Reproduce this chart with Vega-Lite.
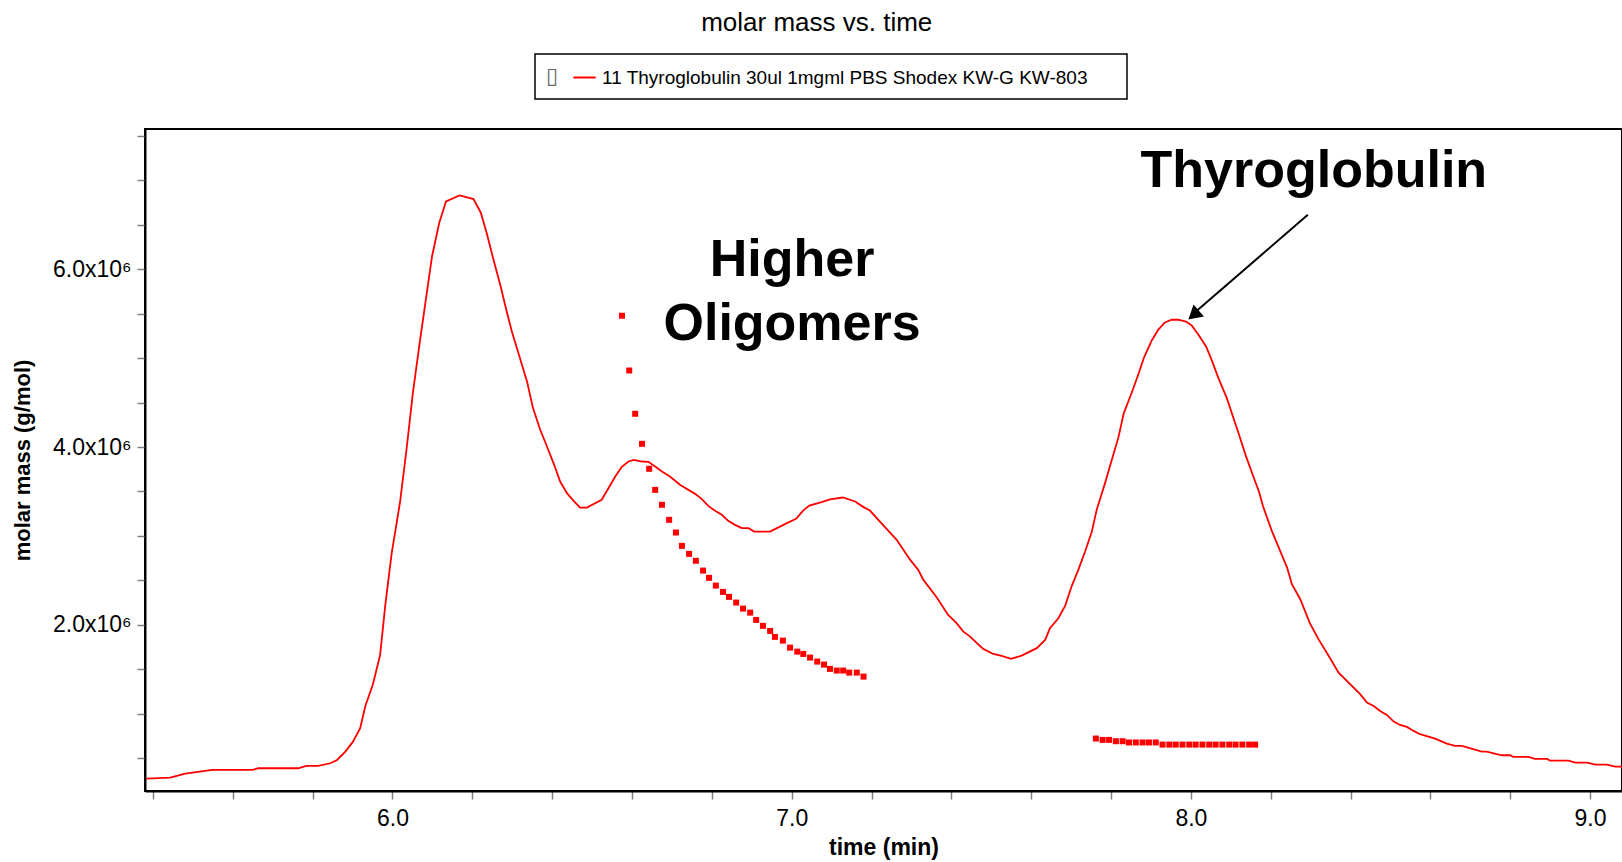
{
  "$schema": "https://vega.github.io/schema/vega-lite/v6.json",
  "width": 1477,
  "height": 662,
  "autosize": "none",
  "padding": {"left": 145, "top": 129, "right": 0, "bottom": 71},
  "background": "white",
  "title": {
    "text": "molar mass vs. time",
    "fontSize": 26,
    "fontWeight": "normal",
    "font": "Liberation Sans",
    "color": "black",
    "anchor": "middle",
    "frame": "bounds",
    "offset": 17
  },
  "datasets": {
    "trace": [
      {"time": 5.383, "mass": 0.269e6}, {"time": 5.443, "mass": 0.280e6}, {"time": 5.481, "mass": 0.325e6},
      {"time": 5.513, "mass": 0.344e6}, {"time": 5.548, "mass": 0.367e6}, {"time": 5.649, "mass": 0.367e6},
      {"time": 5.664, "mass": 0.386e6}, {"time": 5.764, "mass": 0.386e6}, {"time": 5.784, "mass": 0.412e6},
      {"time": 5.814, "mass": 0.412e6}, {"time": 5.844, "mass": 0.442e6}, {"time": 5.861, "mass": 0.479e6},
      {"time": 5.882, "mass": 0.573e6}, {"time": 5.901, "mass": 0.685e6}, {"time": 5.919, "mass": 0.836e6},
      {"time": 5.932, "mass": 1.087e6}, {"time": 5.951, "mass": 1.331e6}, {"time": 5.969, "mass": 1.661e6},
      {"time": 5.982, "mass": 2.224e6}, {"time": 5.998, "mass": 2.806e6}, {"time": 6.019, "mass": 3.383e6},
      {"time": 6.036, "mass": 4.006e6}, {"time": 6.051, "mass": 4.607e6}, {"time": 6.068, "mass": 5.169e6},
      {"time": 6.099, "mass": 6.144e6}, {"time": 6.117, "mass": 6.520e6}, {"time": 6.134, "mass": 6.763e6},
      {"time": 6.168, "mass": 6.831e6}, {"time": 6.203, "mass": 6.790e6}, {"time": 6.221, "mass": 6.639e6},
      {"time": 6.236, "mass": 6.407e6}, {"time": 6.253, "mass": 6.107e6}, {"time": 6.271, "mass": 5.806e6},
      {"time": 6.285, "mass": 5.544e6}, {"time": 6.299, "mass": 5.300e6}, {"time": 6.318, "mass": 5.019e6},
      {"time": 6.337, "mass": 4.737e6}, {"time": 6.352, "mass": 4.438e6}, {"time": 6.370, "mass": 4.194e6},
      {"time": 6.387, "mass": 4.006e6}, {"time": 6.405, "mass": 3.800e6}, {"time": 6.420, "mass": 3.612e6},
      {"time": 6.437, "mass": 3.481e6}, {"time": 6.453, "mass": 3.398e6}, {"time": 6.470, "mass": 3.319e6},
      {"time": 6.487, "mass": 3.319e6}, {"time": 6.524, "mass": 3.406e6}, {"time": 6.541, "mass": 3.537e6},
      {"time": 6.558, "mass": 3.668e6}, {"time": 6.574, "mass": 3.774e6}, {"time": 6.591, "mass": 3.837e6},
      {"time": 6.605, "mass": 3.856e6}, {"time": 6.625, "mass": 3.837e6}, {"time": 6.641, "mass": 3.833e6},
      {"time": 6.658, "mass": 3.781e6}, {"time": 6.675, "mass": 3.724e6}, {"time": 6.695, "mass": 3.668e6},
      {"time": 6.720, "mass": 3.575e6}, {"time": 6.758, "mass": 3.473e6}, {"time": 6.775, "mass": 3.414e6},
      {"time": 6.791, "mass": 3.338e6}, {"time": 6.808, "mass": 3.282e6}, {"time": 6.825, "mass": 3.237e6},
      {"time": 6.841, "mass": 3.169e6}, {"time": 6.858, "mass": 3.124e6}, {"time": 6.875, "mass": 3.087e6},
      {"time": 6.892, "mass": 3.087e6}, {"time": 6.906, "mass": 3.049e6}, {"time": 6.946, "mass": 3.049e6},
      {"time": 6.963, "mass": 3.087e6}, {"time": 6.988, "mass": 3.144e6}, {"time": 7.011, "mass": 3.192e6},
      {"time": 7.028, "mass": 3.282e6}, {"time": 7.044, "mass": 3.342e6}, {"time": 7.075, "mass": 3.380e6},
      {"time": 7.096, "mass": 3.410e6}, {"time": 7.128, "mass": 3.432e6}, {"time": 7.159, "mass": 3.387e6},
      {"time": 7.180, "mass": 3.324e6}, {"time": 7.196, "mass": 3.285e6}, {"time": 7.221, "mass": 3.161e6},
      {"time": 7.263, "mass": 2.956e6}, {"time": 7.297, "mass": 2.730e6}, {"time": 7.317, "mass": 2.618e6},
      {"time": 7.330, "mass": 2.505e6}, {"time": 7.363, "mass": 2.311e6}, {"time": 7.392, "mass": 2.111e6},
      {"time": 7.413, "mass": 2.018e6}, {"time": 7.430, "mass": 1.923e6}, {"time": 7.447, "mass": 1.867e6},
      {"time": 7.464, "mass": 1.793e6}, {"time": 7.480, "mass": 1.729e6}, {"time": 7.505, "mass": 1.672e6},
      {"time": 7.526, "mass": 1.650e6}, {"time": 7.549, "mass": 1.616e6}, {"time": 7.576, "mass": 1.653e6},
      {"time": 7.614, "mass": 1.737e6}, {"time": 7.635, "mass": 1.830e6}, {"time": 7.647, "mass": 1.962e6},
      {"time": 7.668, "mass": 2.074e6}, {"time": 7.685, "mass": 2.213e6}, {"time": 7.701, "mass": 2.430e6},
      {"time": 7.718, "mass": 2.618e6}, {"time": 7.735, "mass": 2.824e6}, {"time": 7.752, "mass": 3.049e6},
      {"time": 7.764, "mass": 3.293e6}, {"time": 7.785, "mass": 3.594e6}, {"time": 7.802, "mass": 3.856e6},
      {"time": 7.818, "mass": 4.100e6}, {"time": 7.832, "mass": 4.382e6}, {"time": 7.852, "mass": 4.613e6},
      {"time": 7.868, "mass": 4.813e6}, {"time": 7.883, "mass": 5.012e6}, {"time": 7.902, "mass": 5.199e6},
      {"time": 7.918, "mass": 5.319e6}, {"time": 7.935, "mass": 5.401e6}, {"time": 7.952, "mass": 5.432e6},
      {"time": 7.968, "mass": 5.432e6}, {"time": 7.988, "mass": 5.412e6}, {"time": 8.002, "mass": 5.367e6},
      {"time": 8.019, "mass": 5.263e6}, {"time": 8.038, "mass": 5.131e6}, {"time": 8.052, "mass": 4.981e6},
      {"time": 8.069, "mass": 4.775e6}, {"time": 8.090, "mass": 4.550e6}, {"time": 8.119, "mass": 4.160e6},
      {"time": 8.138, "mass": 3.898e6}, {"time": 8.161, "mass": 3.612e6}, {"time": 8.170, "mass": 3.507e6},
      {"time": 8.181, "mass": 3.330e6}, {"time": 8.203, "mass": 3.053e6}, {"time": 8.241, "mass": 2.644e6},
      {"time": 8.253, "mass": 2.457e6}, {"time": 8.274, "mass": 2.288e6}, {"time": 8.298, "mass": 2.018e6},
      {"time": 8.320, "mass": 1.836e6}, {"time": 8.348, "mass": 1.630e6}, {"time": 8.370, "mass": 1.462e6},
      {"time": 8.424, "mass": 1.219e6}, {"time": 8.441, "mass": 1.124e6}, {"time": 8.458, "mass": 1.087e6},
      {"time": 8.474, "mass": 1.031e6}, {"time": 8.491, "mass": 0.986e6}, {"time": 8.508, "mass": 0.911e6},
      {"time": 8.524, "mass": 0.873e6}, {"time": 8.541, "mass": 0.851e6}, {"time": 8.558, "mass": 0.806e6},
      {"time": 8.574, "mass": 0.769e6}, {"time": 8.612, "mass": 0.719e6}, {"time": 8.641, "mass": 0.663e6},
      {"time": 8.662, "mass": 0.637e6}, {"time": 8.679, "mass": 0.637e6}, {"time": 8.729, "mass": 0.573e6},
      {"time": 8.741, "mass": 0.573e6}, {"time": 8.779, "mass": 0.532e6}, {"time": 8.800, "mass": 0.532e6},
      {"time": 8.808, "mass": 0.513e6}, {"time": 8.846, "mass": 0.513e6}, {"time": 8.862, "mass": 0.491e6},
      {"time": 8.892, "mass": 0.491e6}, {"time": 8.900, "mass": 0.472e6}, {"time": 8.946, "mass": 0.472e6},
      {"time": 8.963, "mass": 0.449e6}, {"time": 8.992, "mass": 0.449e6}, {"time": 9.013, "mass": 0.427e6},
      {"time": 9.042, "mass": 0.427e6}, {"time": 9.063, "mass": 0.404e6}, {"time": 9.080, "mass": 0.404e6}
    ],
    "molar": [
      {"time": 6.575, "mass": 5.477e6}, {"time": 6.593, "mass": 4.861e6}, {"time": 6.608, "mass": 4.374e6},
      {"time": 6.625, "mass": 4.036e6}, {"time": 6.643, "mass": 3.755e6}, {"time": 6.658, "mass": 3.518e6},
      {"time": 6.675, "mass": 3.350e6}, {"time": 6.693, "mass": 3.181e6}, {"time": 6.710, "mass": 3.038e6},
      {"time": 6.725, "mass": 2.888e6}, {"time": 6.743, "mass": 2.798e6}, {"time": 6.760, "mass": 2.720e6},
      {"time": 6.778, "mass": 2.610e6}, {"time": 6.793, "mass": 2.528e6}, {"time": 6.810, "mass": 2.441e6},
      {"time": 6.828, "mass": 2.370e6}, {"time": 6.843, "mass": 2.314e6}, {"time": 6.861, "mass": 2.250e6},
      {"time": 6.878, "mass": 2.182e6}, {"time": 6.896, "mass": 2.137e6}, {"time": 6.911, "mass": 2.055e6},
      {"time": 6.928, "mass": 1.988e6}, {"time": 6.946, "mass": 1.931e6}, {"time": 6.958, "mass": 1.864e6},
      {"time": 6.978, "mass": 1.822e6}, {"time": 6.996, "mass": 1.743e6}, {"time": 7.014, "mass": 1.698e6},
      {"time": 7.029, "mass": 1.672e6}, {"time": 7.046, "mass": 1.631e6}, {"time": 7.064, "mass": 1.586e6},
      {"time": 7.081, "mass": 1.552e6}, {"time": 7.096, "mass": 1.504e6}, {"time": 7.113, "mass": 1.485e6},
      {"time": 7.129, "mass": 1.485e6}, {"time": 7.144, "mass": 1.462e6}, {"time": 7.163, "mass": 1.462e6},
      {"time": 7.180, "mass": 1.417e6},
      {"time": 7.762, "mass": 0.720e6}, {"time": 7.779, "mass": 0.705e6}, {"time": 7.795, "mass": 0.705e6},
      {"time": 7.812, "mass": 0.690e6}, {"time": 7.829, "mass": 0.690e6}, {"time": 7.845, "mass": 0.676e6},
      {"time": 7.862, "mass": 0.676e6}, {"time": 7.879, "mass": 0.676e6}, {"time": 7.895, "mass": 0.676e6},
      {"time": 7.912, "mass": 0.676e6}, {"time": 7.929, "mass": 0.652e6}, {"time": 7.946, "mass": 0.652e6},
      {"time": 7.962, "mass": 0.652e6}, {"time": 7.979, "mass": 0.652e6}, {"time": 7.996, "mass": 0.652e6},
      {"time": 8.012, "mass": 0.652e6}, {"time": 8.029, "mass": 0.652e6}, {"time": 8.046, "mass": 0.652e6},
      {"time": 8.062, "mass": 0.652e6}, {"time": 8.079, "mass": 0.652e6}, {"time": 8.096, "mass": 0.652e6},
      {"time": 8.112, "mass": 0.652e6}, {"time": 8.129, "mass": 0.652e6}, {"time": 8.146, "mass": 0.652e6},
      {"time": 8.161, "mass": 0.652e6}
    ],
    "notes": [
      {"time": 7.001, "mass": 5.919e6, "text": "Higher"},
      {"time": 7.001, "mass": 5.199e6, "text": "Oligomers"},
      {"time": 8.308, "mass": 6.928e6, "text": "Thyroglobulin"}
    ],
    "arrow": [
      {"time": 8.293, "mass": 6.613e6, "time2": 8.004, "mass2": 5.49e6}
    ],
    "head": [
      {"time": 8.0067, "mass": 5.486e6}
    ]
  },
  "encoding": {
    "x": {
      "field": "time",
      "type": "quantitative",
      "scale": {"domain": [5.38, 9.08], "nice": false, "zero": false},
      "axis": {
        "title": "time (min)",
        "values": [5.4, 5.6, 5.8, 6.0, 6.2, 6.4, 6.6, 6.8, 7.0, 7.2, 7.4, 7.6, 7.8, 8.0, 8.2, 8.4, 8.6, 8.8, 9.0],
        "labelExpr": "abs(datum.value - round(datum.value)) < 0.001 ? format(datum.value, '.1f') : ''",
        "labelOverlap": false,
        "labelFlush": false,
        "labelPadding": 8,
        "titlePadding": 6,
        "titleFontSize": 23
      }
    },
    "y": {
      "field": "mass",
      "type": "quantitative",
      "scale": {"domain": [130000, 7578000], "nice": false, "zero": false},
      "axis": {
        "title": "molar mass (g/mol)",
        "values": [500000, 1000000, 1500000, 2000000, 2500000, 3000000, 3500000, 4000000, 4500000, 5000000, 5500000, 6000000, 6500000, 7000000, 7500000],
        "labelExpr": "datum.value % 2000000 == 0 ? format(datum.value / 1000000, '.1f') + 'x10⁶' : ''",
        "labelOverlap": false,
        "labelPadding": 6,
        "titlePadding": 18
      }
    }
  },
  "layer": [
    {
      "data": {"name": "trace"},
      "mark": {"type": "line", "strokeWidth": 1.8, "clip": true},
      "encoding": {
        "color": {
          "datum": "11 Thyroglobulin 30ul 1mgml PBS Shodex KW-G KW-803",
          "type": "nominal",
          "scale": {"range": ["#ff0000"]},
          "legend": {
            "title": "▯",
            "titleOrient": "left",
            "orient": "none",
            "legendX": 390,
            "legendY": -75,
            "labelExpr": "datum.label + '\u2800\u2800'"
          }
        }
      }
    },
    {
      "data": {"name": "molar"},
      "mark": {"type": "point", "shape": "square", "filled": true, "size": 36, "color": "#ff0000", "opacity": 1, "clip": true}
    },
    {
      "data": {"name": "arrow"},
      "mark": {"type": "rule", "color": "black", "strokeWidth": 2},
      "encoding": {
        "x2": {"field": "time2"},
        "y2": {"field": "mass2"}
      }
    },
    {
      "data": {"name": "head"},
      "mark": {"type": "point", "shape": "triangle-up", "filled": true, "size": 250, "color": "black", "opacity": 1, "angle": 229}
    },
    {
      "data": {"name": "notes"},
      "mark": {"type": "text", "font": "Liberation Sans", "fontSize": 52, "fontWeight": "bold", "align": "center", "baseline": "alphabetic", "color": "black"},
      "encoding": {
        "text": {"field": "text", "type": "nominal"}
      }
    }
  ],
  "config": {
    "font": "Liberation Sans",
    "view": {"stroke": "black", "strokeWidth": 2},
    "axis": {
      "grid": false,
      "domainColor": "black",
      "domainWidth": 2,
      "tickColor": "#808080",
      "tickWidth": 1.5,
      "tickSize": 8,
      "labelFont": "Liberation Sans",
      "labelFontSize": 23,
      "labelColor": "black",
      "titleFont": "Liberation Sans",
      "titleFontSize": 22,
      "titleFontWeight": "bold",
      "titleColor": "black"
    },
    "legend": {
      "strokeColor": "black",
      "strokeWidth": 1.5,
      "fillColor": "white",
      "padding": 11,
      "labelFont": "Liberation Sans",
      "labelFontSize": 19,
      "labelColor": "black",
      "labelLimit": 800,
      "labelOffset": 5,
      "symbolType": "stroke",
      "symbolSize": 500,
      "symbolStrokeWidth": 2,
      "titleFont": "DejaVu Sans",
      "titleFontSize": 22,
      "titleFontWeight": "normal",
      "titleColor": "#666666",
      "titlePadding": 13
    }
  }
}
